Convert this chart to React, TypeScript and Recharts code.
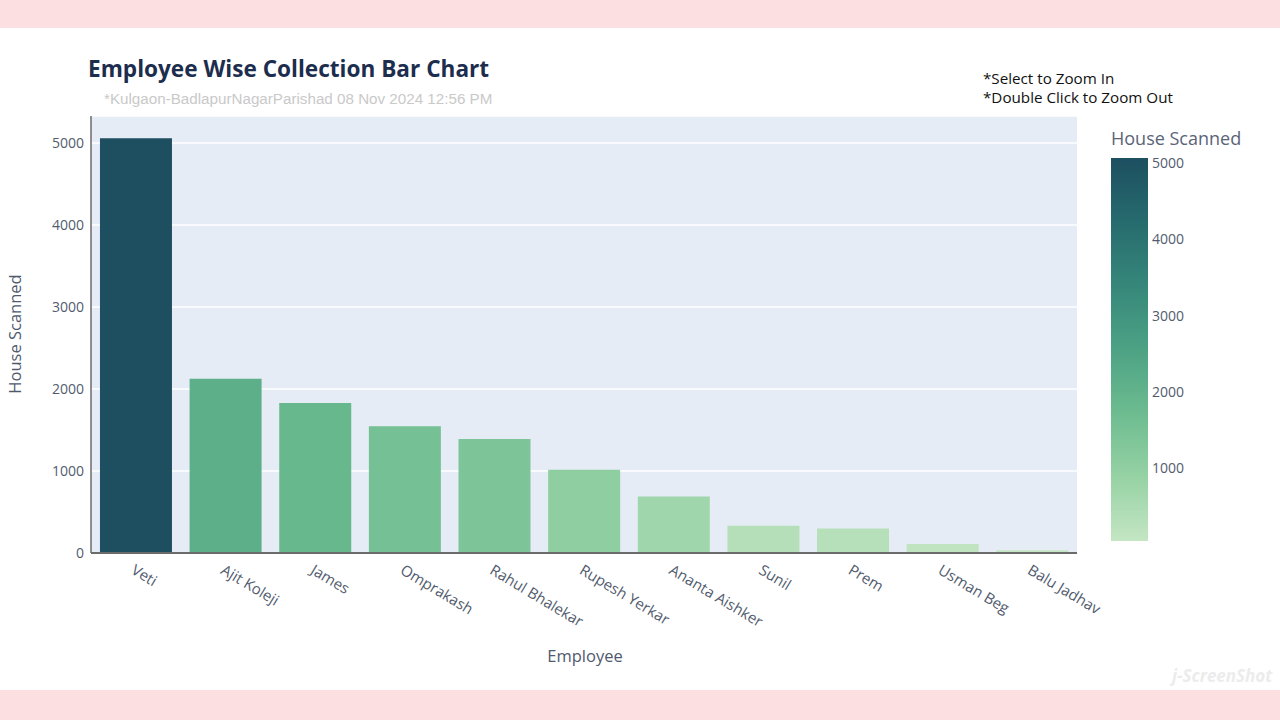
import { BarChart, Bar, XAxis, YAxis, CartesianGrid, Cell } from "recharts"

const employees = [
  "Veti",
  "Ajit Koleji",
  "James",
  "Omprakash",
  "Rahul Bhalekar",
  "Rupesh Yerkar",
  "Ananta Aishker",
  "Sunil",
  "Prem",
  "Usman Beg",
  "Balu Jadhav",
]
const houseScanned = [5060, 2125, 1830, 1545, 1390, 1015, 690, 333, 300, 110, 35]
const yTicks = [0, 1000, 2000, 3000, 4000, 5000]
const colorbarTicks = [1000, 2000, 3000, 4000, 5000]
// plotly "Blugrn" colorscale, light to dark
const blugrn = ["#c4e6c3", "#96d2a4", "#6dbc90", "#4da284", "#36877a", "#266b6e", "#1d4f60"]

const data = employees.map((name, i) => ({ name, value: houseScanned[i] }))
const minVal = Math.min(...houseScanned)
const maxVal = Math.max(...houseScanned)

function hexToRgb(h: string) {
  const n = parseInt(h.slice(1), 16)
  return [(n >> 16) & 255, (n >> 8) & 255, n & 255]
}

function scaleColor(v: number) {
  const t = Math.max(0, Math.min(1, (v - minVal) / (maxVal - minVal)))
  const pos = t * (blugrn.length - 1)
  const i = Math.min(Math.floor(pos), blugrn.length - 2)
  const f = pos - i
  const a = hexToRgb(blugrn[i])
  const b = hexToRgb(blugrn[i + 1])
  const c = a.map((x, k) => Math.round(x + (b[k] - x) * f))
  return `rgb(${c[0]},${c[1]},${c[2]})`
}

const FONT = "'Open Sans', 'Noto Sans', sans-serif"
const TICK_COLOR = "#525c6e"

const XTick = ({ x, y, payload }: any) => (
  <g transform={`translate(${x + 1},${y + 1})`}>
    <text
      x={0}
      y={0}
      transform="rotate(31)"
      textAnchor="start"
      dominantBaseline="hanging"
      fill={TICK_COLOR}
      fontSize={15}
      fontFamily={FONT}
    >
      {payload.value}
    </text>
  </g>
)

// colorbar geometry
const CB_X = 1111
const CB_W = 37
const CB_TOP = 158
const CB_BOTTOM = 541
const cbY = (v: number) => CB_BOTTOM - ((v - minVal) / (maxVal - minVal)) * (CB_BOTTOM - CB_TOP)

export default function App() {
  return (
    <div
      style={{
        position: "absolute",
        left: 0,
        top: 0,
        width: 1280,
        height: 720,
        background: "#fcdfe1",
        fontFamily: FONT,
      }}
    >
      <div style={{ position: "absolute", left: 0, top: 28, width: 1280, height: 662, background: "#ffffff" }} />

      <div style={{ position: "absolute", left: 0, top: 0 }}>
        <BarChart
          width={1280}
          height={720}
          data={data}
          margin={{ top: 116, right: 203, bottom: 67, left: 31 }}
          barCategoryGap="10%"
        >
          <CartesianGrid horizontal vertical={false} stroke="#ffffff" strokeWidth={1.5} fill="#e5ecf6" />
          <XAxis
            dataKey="name"
            interval={0}
            height={100}
            tickLine={false}
            axisLine={{ stroke: "#6b6b6b", strokeWidth: 2 }}
            tick={<XTick />}
          />
          <YAxis
            width={60}
            domain={[0, 5330]}
            ticks={yTicks}
            tickLine={false}
            axisLine={{ stroke: "#6b6b6b", strokeWidth: 1.5 }}
            tick={{ fill: TICK_COLOR, fontSize: 14, fontFamily: FONT }}
            tickMargin={1}
          />
          <Bar dataKey="value" isAnimationActive={false}>
            {data.map((d) => (
              <Cell key={d.name} fill={scaleColor(d.value)} />
            ))}
          </Bar>
        </BarChart>
      </div>

      <svg width={1280} height={720} style={{ position: "absolute", left: 0, top: 0, pointerEvents: "none" }}>
        <defs>
          <linearGradient id="cbGrad" x1="0" y1="1" x2="0" y2="0">
            {blugrn.map((c, i) => (
              <stop key={c} offset={`${(i / (blugrn.length - 1)) * 100}%`} stopColor={c} />
            ))}
          </linearGradient>
        </defs>
        <text x={88} y={77} fontSize={22.6} fontWeight={700} fill="#1c2d4d" fontFamily={FONT}>
          Employee Wise Collection Bar Chart
        </text>
        <text x={104} y={104} fontSize={15.2} fill="#c9c9c9" fontFamily="'Liberation Sans', Arial, sans-serif">
          *Kulgaon-BadlapurNagarParishad 08 Nov 2024 12:56 PM
        </text>
        <text x={983} y={84} fontSize={15.2} fill="#111" fontFamily={FONT}>
          *Select to Zoom In
        </text>
        <text x={983} y={103} fontSize={15.2} fill="#111" fontFamily={FONT}>
          *Double Click to Zoom Out
        </text>

        <text
          x={0}
          y={0}
          transform="translate(21,334) rotate(-90)"
          textAnchor="middle"
          fontSize={16.5}
          fill="#4f5a6e"
          fontFamily={FONT}
        >
          House Scanned
        </text>
        <text x={585} y={662} textAnchor="middle" fontSize={16.5} fill="#4f5a6e" fontFamily={FONT}>
          Employee
        </text>

        <text x={CB_X} y={145} fontSize={18} fill="#5a6478" fontFamily={FONT}>
          House Scanned
        </text>
        <rect x={CB_X} y={CB_TOP} width={CB_W} height={CB_BOTTOM - CB_TOP} fill="url(#cbGrad)" />
        {colorbarTicks.map((t) => (
          <text
            key={t}
            x={CB_X + CB_W + 4}
            y={cbY(t)}
            dominantBaseline="central"
            fontSize={14}
            fill={TICK_COLOR}
            fontFamily={FONT}
          >
            {t}
          </text>
        ))}

        <text x={1172} y={682} fontSize={17} fontStyle="italic" fontWeight={700} fill="#ececec" fontFamily={FONT}>
          j-ScreenShot
        </text>
      </svg>
    </div>
  )
}
